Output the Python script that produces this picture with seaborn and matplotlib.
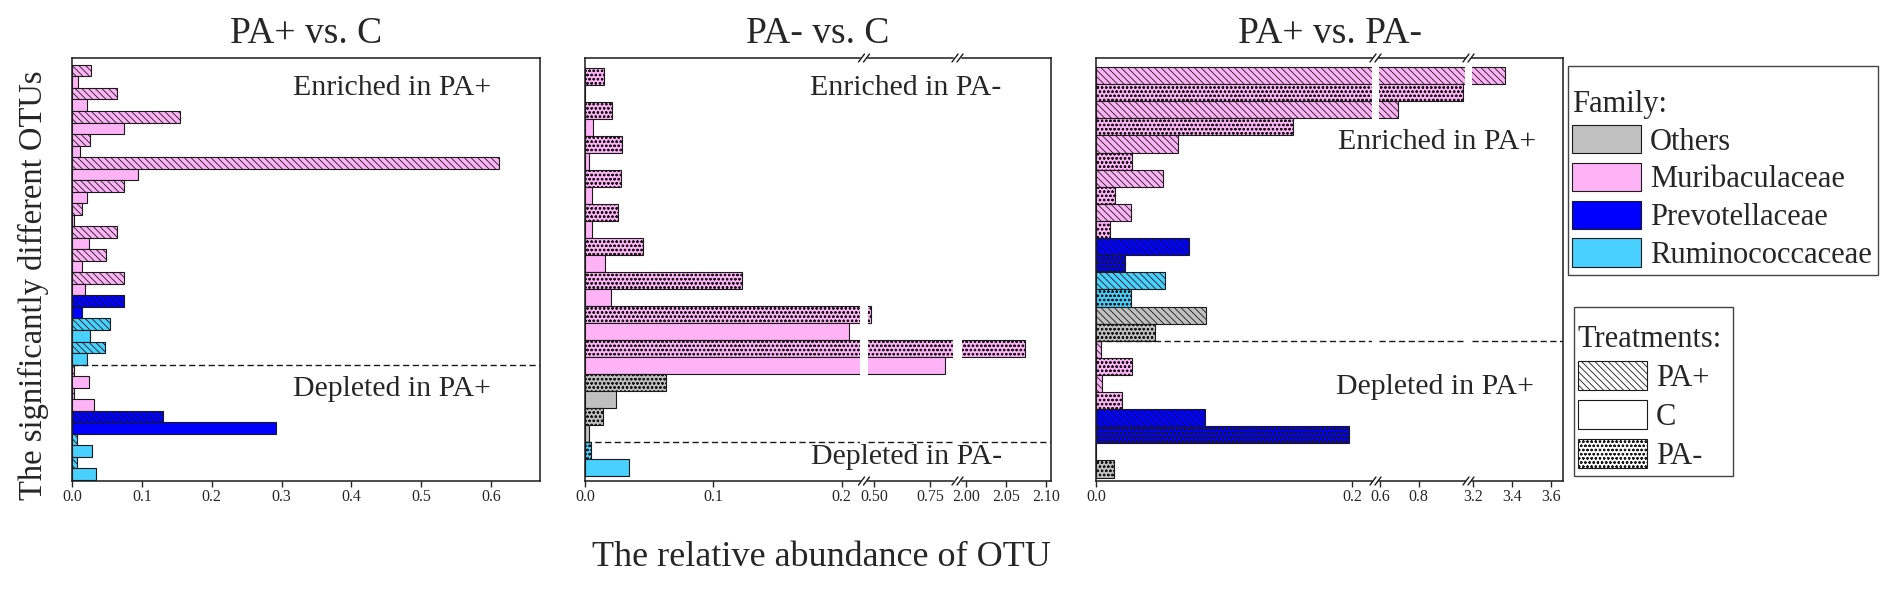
import numpy as np
import pandas as pd
import matplotlib
matplotlib.use("Agg")
import matplotlib.pyplot as plt
from matplotlib.patches import Patch, Rectangle
from matplotlib.lines import Line2D
import seaborn as sns

# legend / style tables
families = ["Others", "Muribaculaceae", "Prevotellaceae", "Ruminococcaceae"]
family_colors = ["#c0c0c0", "#ffb3f7", "#0000ff", "#48d1ff"]
treatments = ["PA+", "C", "PA-"]
treatment_hatches = ["\\\\\\\\\\", "", "oooo"]

# PA+ vs. C  (13 enriched OTUs, 5 depleted)
p1_family = (["Muribaculaceae"] * 10 + ["Prevotellaceae"] + ["Ruminococcaceae"] * 2
             + ["Muribaculaceae"] * 2 + ["Prevotellaceae"] + ["Ruminococcaceae"] * 2)
p1_pa_plus = [0.027, 0.064, 0.155, 0.026, 0.612, 0.074, 0.014, 0.065, 0.048, 0.075,
              0.074, 0.055, 0.047, 0.003, 0.003, 0.130, 0.007, 0.007]
p1_c = [0.008, 0.022, 0.074, 0.011, 0.094, 0.021, 0.003, 0.025, 0.014, 0.018,
        0.014, 0.026, 0.021, 0.024, 0.032, 0.292, 0.028, 0.034]
p1_n_enriched = 13

# PA- vs. C  (11 enriched, 1 depleted)
p2_family = ["Muribaculaceae"] * 9 + ["Others"] * 2 + ["Ruminococcaceae"]
p2_pa_minus = [0.015, 0.021, 0.029, 0.028, 0.026, 0.045, 0.122, 0.486, 2.073,
               0.063, 0.014, 0.005]
p2_c = [0.0, 0.006, 0.0034, 0.0057, 0.0052, 0.0156, 0.020, 0.206, 0.817,
        0.024, 0.0034, 0.0345]
p2_n_enriched = 11

# PA+ vs. PA-  (8 enriched, 4 depleted)
p3_family = (["Muribaculaceae"] * 5 + ["Prevotellaceae", "Ruminococcaceae", "Others"]
             + ["Muribaculaceae"] * 2 + ["Prevotellaceae", "Others"])
p3_pa_plus = [3.364, 0.692, 0.064, 0.052, 0.027, 0.073, 0.054, 0.086,
              0.004, 0.005, 0.085, 0.0]
p3_pa_minus = [1.031, 0.154, 0.028, 0.015, 0.011, 0.023, 0.027, 0.046,
               0.028, 0.020, 0.198, 0.014]
p3_n_enriched = 8

W, H = 1890, 590
TOP, BOT = 58, 481

sns.set_style("ticks")
plt.rcParams["font.family"] = ["Liberation Serif", "DejaVu Serif"]
plt.rcParams["hatch.linewidth"] = 0.6
plt.rcParams["axes.linewidth"] = 1.1

color_map = dict(zip(families, family_colors))
hatch_map = dict(zip(treatments, treatment_hatches))


def long_table(fams, first, second, t1, t2):
    rows = []
    for i, (f, a, b) in enumerate(zip(fams, first, second)):
        rows.append(dict(row="r%02d" % (2 * i), value=a, family=f, treatment=t1))
        rows.append(dict(row="r%02d" % (2 * i + 1), value=b, family=f, treatment=t2))
    return pd.DataFrame(rows)


def add_ax(x0, x1):
    return fig.add_axes([x0 / W, 1 - BOT / H, (x1 - x0) / W, (BOT - TOP) / H])


def draw_seg(ax, df, xlim, ticks, fmt, sep, pads, side):
    sns.barplot(data=df, x="value", y="row", order=list(df["row"]), orient="h",
                width=1.0, errorbar=None, color="white", edgecolor="#1a1a1a",
                linewidth=0.8, ax=ax)
    for patch in ax.patches:
        k = int(round(patch.get_y() + patch.get_height() / 2))
        rec = df.iloc[k]
        patch.set_facecolor(color_map[rec.family])
        patch.set_hatch(hatch_map[rec.treatment])
    n = len(df)
    ax.set_ylim(n - 0.5 + pads[1], -0.5 - pads[0])
    ax.set_xlim(*xlim)
    ax.axhline(sep, color="#1a1a1a", lw=1.0, ls=(0, (4.5, 2.5)))
    ax.set_yticks([])
    ax.set_xticks(ticks)
    ax.set_xticklabels([fmt.format(t) for t in ticks])
    ax.tick_params(axis="x", direction="out", length=4, width=1, labelsize=11.5, pad=2)
    ax.set_xlabel("")
    ax.set_ylabel("")
    for s in ["left", "right", "top", "bottom"]:
        ax.spines[s].set_color("#1a1a1a")
    if "l" not in side:
        ax.spines["left"].set_visible(False)
    if "r" not in side:
        ax.spines["right"].set_visible(False)


def break_mark(xc):
    for y in (TOP, BOT):
        for off in (-2.5, 2.5):
            fig.add_artist(Line2D([(xc + off - 3) / W, (xc + off + 3) / W],
                                  [1 - (y + 4) / H, 1 - (y - 4) / H],
                                  color="#1a1a1a", lw=1.0, transform=fig.transFigure))


def legend_box(handles, labels, title, x0, y0, x1, y1, title_top, spacing):
    leg = fig.legend(handles, labels, title=title, loc="upper left",
                     bbox_to_anchor=((x0 + 4) / W, 1 - title_top / H), frameon=False,
                     fontsize=22, title_fontsize=22, alignment="left",
                     handlelength=2.25, handleheight=1.05, labelspacing=spacing,
                     handletextpad=0.3, borderpad=0, borderaxespad=0)
    fig.add_artist(Rectangle((x0 / W, 1 - y1 / H), (x1 - x0) / W, (y1 - y0) / H,
                             transform=fig.transFigure, fill=False,
                             edgecolor="#444444", lw=1.0))
    return leg


fig = plt.figure(figsize=(W / 100, H / 100), dpi=100)

df1 = long_table(p1_family, p1_pa_plus, p1_c, "PA+", "C")
df2 = long_table(p2_family, p2_pa_minus, p2_c, "PA-", "C")
df3 = long_table(p3_family, p3_pa_plus, p3_pa_minus, "PA+", "PA-")

# panel 1
ax1 = add_ax(72, 540)
draw_seg(ax1, df1, (0, 0.67), [0, 0.1, 0.2, 0.3, 0.4, 0.5, 0.6], "{:.1f}",
         2 * p1_n_enriched - 0.5, (0.6, 0.1), "lr")

# panel 2, broken axis
ax2a = add_ax(585, 860)
ax2b = add_ax(868, 953)
ax2c = add_ax(962, 1051)
sep2 = 2 * p2_n_enriched - 0.5
draw_seg(ax2a, df2, (0, 0.2143), [0, 0.1, 0.2], "{:.1f}", sep2, (0.59, 0.3), "l")
draw_seg(ax2b, df2, (0.473, 0.853), [0.50, 0.75], "{:.2f}", sep2, (0.59, 0.3), "")
draw_seg(ax2c, df2, (1.995, 2.106), [2.00, 2.05, 2.10], "{:.2f}", sep2, (0.59, 0.3), "r")
break_mark(864)
break_mark(957.5)

# panel 3, broken axis
ax3a = add_ax(1096, 1372)
ax3b = add_ax(1379, 1465)
ax3c = add_ax(1472, 1563)
sep3 = 2 * p3_n_enriched - 0.5
draw_seg(ax3a, df3, (0, 0.2156), [0, 0.2], "{:.1f}", sep3, (0.53, 0.2), "l")
draw_seg(ax3b, df3, (0.595, 1.041), [0.6, 0.8], "{:.1f}", sep3, (0.53, 0.2), "")
draw_seg(ax3c, df3, (3.195, 3.662), [3.2, 3.4, 3.6], "{:.1f}", sep3, (0.53, 0.2), "r")
break_mark(1375.5)
break_mark(1468.5)

# titles and labels
for cx, title in [(306, "PA+ vs. C"), (818, "PA- vs. C"), (1330, "PA+ vs. PA-")]:
    fig.text(cx / W, 1 - 43 / H, title, ha="center", va="baseline", fontsize=27)

notes = [(293, 88, "Enriched in PA+"), (293, 389, "Depleted in PA+"),
         (810, 88, "Enriched in PA-"), (811, 457, "Depleted in PA-"),
         (1338, 142, "Enriched in PA+"), (1336, 387, "Depleted in PA+")]
for x, y, s in notes:
    fig.text(x / W, 1 - y / H, s, ha="left", va="center", fontsize=21.5)

fig.text(33 / W, 1 - 285 / H, "The significantly different OTUs", rotation=90,
         ha="center", va="center", fontsize=23.5)
fig.text(821 / W, 1 - 557 / H, "The relative abundance of OTU",
         ha="center", va="center", fontsize=26)

# legends
fam_handles = [Patch(facecolor=c, edgecolor="#1a1a1a", linewidth=0.8) for c in family_colors]
legend_box(fam_handles, families, "Family:", 1568, 66, 1878, 275, 90, 0.2)

treat_handles = [Patch(facecolor="white", edgecolor="#1a1a1a", hatch=h, linewidth=0.8)
                 for h in treatment_hatches]
legend_box(treat_handles, treatments, "Treatments:", 1574, 307, 1733, 476, 325, 0.24)

fig.savefig("out.png", dpi=100)
